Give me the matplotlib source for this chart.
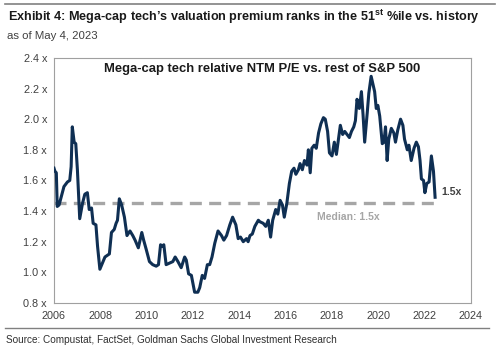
import matplotlib.pyplot as plt
from matplotlib.lines import Line2D

plt.rcParams['font.family'] = ['Liberation Sans', 'DejaVu Sans']
plt.rcParams['mathtext.fontset'] = 'custom'
plt.rcParams['mathtext.rm'] = 'Liberation Sans'
plt.rcParams['mathtext.bf'] = 'Liberation Sans:bold'

# relative NTM P/E (decimal years)
years = [2006.00, 2006.04, 2006.10, 2006.14, 2006.22, 2006.29, 2006.43, 2006.58, 2006.68, 2006.74,
         2006.79, 2006.87, 2006.94, 2007.01, 2007.11, 2007.23, 2007.33, 2007.44, 2007.52, 2007.62,
         2007.69, 2007.81, 2007.88, 2007.98, 2008.09, 2008.20, 2008.39, 2008.48, 2008.60, 2008.68,
         2008.74, 2008.82, 2008.92, 2009.04, 2009.15, 2009.28, 2009.40, 2009.50, 2009.64, 2009.79,
         2009.87, 2009.98, 2010.12, 2010.26, 2010.41, 2010.51, 2010.60, 2010.67, 2010.74, 2010.84,
         2010.99, 2011.13, 2011.23, 2011.35, 2011.49, 2011.64, 2011.71, 2011.81, 2011.93, 2012.07,
         2012.21, 2012.29, 2012.40, 2012.50, 2012.62, 2012.72, 2012.82, 2012.94, 2013.08, 2013.23,
         2013.33, 2013.45, 2013.59, 2013.71, 2013.85, 2013.95, 2014.05, 2014.17, 2014.31, 2014.38,
         2014.46, 2014.56, 2014.67, 2014.82, 2014.89, 2015.03, 2015.14, 2015.25, 2015.35, 2015.44,
         2015.57, 2015.66, 2015.76, 2015.86, 2015.94, 2016.05, 2016.16, 2016.26, 2016.36, 2016.44,
         2016.55, 2016.62, 2016.72, 2016.81, 2016.92, 2016.98, 2017.06, 2017.13, 2017.23, 2017.32,
         2017.42, 2017.52, 2017.63, 2017.71, 2017.81, 2017.89, 2018.00, 2018.10, 2018.19, 2018.29,
         2018.36, 2018.46, 2018.55, 2018.65, 2018.75, 2018.84, 2018.94, 2019.01, 2019.08, 2019.18,
         2019.27, 2019.34, 2019.41, 2019.52, 2019.59, 2019.69, 2019.78, 2019.84, 2019.91, 2019.98,
         2020.06, 2020.17, 2020.24, 2020.31, 2020.38, 2020.45, 2020.56, 2020.67, 2020.74, 2020.84,
         2020.96, 2021.06, 2021.13, 2021.25, 2021.32, 2021.42, 2021.54, 2021.64, 2021.73, 2021.80,
         2021.86, 2021.95, 2022.01, 2022.09, 2022.19, 2022.29, 2022.38, 2022.45]
values = [1.68, 1.66, 1.65, 1.43, 1.44, 1.48, 1.56, 1.59, 1.60, 1.69,
          1.95, 1.85, 1.84, 1.67, 1.35, 1.45, 1.51, 1.52, 1.41, 1.42,
          1.32, 1.31, 1.17, 1.02, 1.06, 1.10, 1.12, 1.26, 1.28, 1.32,
          1.34, 1.48, 1.44, 1.36, 1.24, 1.27, 1.24, 1.21, 1.16, 1.26,
          1.21, 1.15, 1.07, 1.05, 1.04, 1.05, 1.18, 1.17, 1.18, 1.05,
          1.06, 1.07, 1.10, 1.07, 1.03, 1.10, 1.08, 0.99, 0.98, 0.87,
          0.87, 0.90, 0.98, 0.96, 1.05, 1.05, 1.10, 1.19, 1.27, 1.24,
          1.21, 1.24, 1.31, 1.36, 1.31, 1.22, 1.23, 1.20, 1.22, 1.20,
          1.24, 1.25, 1.30, 1.34, 1.33, 1.32, 1.30, 1.34, 1.23, 1.34,
          1.41, 1.38, 1.47, 1.44, 1.36, 1.45, 1.58, 1.66, 1.68, 1.64,
          1.67, 1.71, 1.67, 1.73, 1.70, 1.80, 1.65, 1.81, 1.83, 1.81,
          1.91, 1.97, 2.01, 2.00, 1.92, 1.78, 1.76, 1.85, 1.77, 1.88,
          1.96, 1.90, 1.92, 1.90, 1.88, 1.92, 1.95, 1.99, 2.13, 2.07,
          2.18, 2.03, 1.85, 2.04, 2.17, 2.28, 2.22, 2.18, 2.07, 2.09,
          2.02, 1.84, 1.85, 1.95, 1.73, 1.87, 1.94, 1.91, 1.85, 1.93,
          2.00, 1.96, 1.87, 1.80, 1.83, 1.73, 1.81, 1.85, 1.82, 1.73,
          1.61, 1.60, 1.52, 1.58, 1.59, 1.76, 1.66, 1.49]

median = 1.45
yticks = [0.8, 1.0, 1.2, 1.4, 1.6, 1.8, 2.0, 2.2, 2.4]
xticks = list(range(2006, 2025, 2))

fig = plt.figure(figsize=(5, 3.49), dpi=100)
ax = fig.add_axes([0.108, 0.132, 0.834, 0.702])

ax.plot([years[0], years[-1]], [median, median], color='#A6A6A6', lw=2.4,
        dashes=(3.6, 2.2), solid_capstyle='butt', zorder=2)
ax.plot(years, values, color='#0F2F53', lw=2.2, zorder=3)

ax.set_xlim(2006, 2024)
ax.set_ylim(0.8, 2.4)
ax.set_yticks(yticks)
ax.set_yticklabels([f'{v:.1f} x' for v in yticks])
ax.set_xticks(xticks)
ax.tick_params(length=0, labelsize=7.8, colors='#404040')
ax.tick_params(axis='x', pad=6)
ax.tick_params(axis='y', pad=5)
for s in ax.spines.values():
    s.set_color('#A0A0A0')
    s.set_linewidth(0.8)

ax.text(0.5, 0.955, 'Mega-cap tech relative NTM P/E vs. rest of S&P 500', transform=ax.transAxes,
        ha='center', va='center', fontsize=9.4, fontweight='bold', color='#1A1A1A')
ax.text(years[-1] + 0.25, 1.525, '1.5x', fontsize=7.5, fontweight='bold', color='#404040',
        va='center', ha='left')
ax.text(2018.7, 1.36, 'Median: 1.5x', fontsize=7.5, fontweight='bold', color='#A6A6A6',
        va='center', ha='center')

# header and footer
fig.add_artist(Line2D([0.01, 0.99], [0.988, 0.988], color='#808080', lw=1.2))
fig.text(0.016, 0.952, r'Exhibit 4: Mega-cap tech’s valuation premium ranks in the 51$^{\mathbf{st}}$ %ile vs. history',
         fontsize=9.1, fontweight='bold', color='#1A1A1A', va='center')
fig.text(0.014, 0.898, 'as of May 4, 2023', fontsize=8.2, color='#404040', va='center')
fig.add_artist(Line2D([0.01, 0.978], [0.06, 0.06], color='#808080', lw=1.0))
fig.text(0.012, 0.026, 'Source: Compustat, FactSet, Goldman Sachs Global Investment Research',
         fontsize=7.2, color='#303030', va='center')

fig.savefig('out.png', dpi=100)
